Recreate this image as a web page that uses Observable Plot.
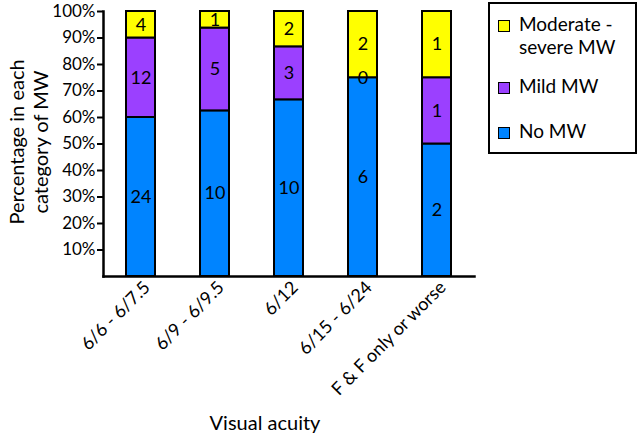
<!DOCTYPE html>
<html><head><meta charset="utf-8">
<script src="https://cdn.jsdelivr.net/npm/d3@7"></script>
<script src="https://cdn.jsdelivr.net/npm/@observablehq/plot@0.6"></script>
<style>
body{margin:0;background:#fff;}
#wrap{position:relative;width:640px;height:439px;font-family:Lato,"Noto Sans",sans-serif;}
.lg{position:absolute;left:488px;top:2px;width:145px;height:148px;border:2px solid #000;background:#fff;}
.sw{position:absolute;left:8px;width:10px;height:10px;border:1.5px solid #000;}
.lt{position:absolute;left:29px;font-size:19px;line-height:23px;color:#000;}
.ylab{position:absolute;left:28px;top:142px;transform:translate(-50%,-50%) rotate(-90deg);font-size:20px;line-height:24px;text-align:center;white-space:nowrap;}
.xlab{position:absolute;left:265px;top:410px;transform:translateX(-50%);font-size:20px;line-height:24px;white-space:nowrap;}
</style></head>
<body><div id="wrap"></div>
<script>
const categories = ["6/6 - 6/7.5", "6/9 - 6/9.5", "6/12", "6/15 - 6/24", "F & F only or worse"];
const series = ["No MW", "Mild MW", "Moderate - severe MW"];
const noMW = [24, 10, 10, 6, 2];
const mildMW = [12, 5, 3, 0, 1];
const modSevMW = [4, 1, 2, 2, 1];
const colors = ["#0084ff", "#9b40ff", "#ffff00"];
const yTicks = [10, 20, 30, 40, 50, 60, 70, 80, 90, 100];

const counts = [noMW, mildMW, modSevMW];
const rows = [];
categories.forEach((c, i) => {
  const total = noMW[i] + mildMW[i] + modSevMW[i];
  series.forEach((s, k) => {
    rows.push({cat: c, series: s, count: counts[k][i], pct: counts[k][i] / total * 100});
  });
});

const chart = Plot.plot({
  width: 640, height: 439,
  marginTop: 11, marginBottom: 163, marginLeft: 103, marginRight: 166,
  style: {fontFamily: "Lato, 'Noto Sans', sans-serif", fontSize: "18px", color: "#000", overflow: "visible"},
  x: {domain: categories, paddingInner: 0.613, paddingOuter: 0.28, label: null},
  y: {domain: [0, 100], label: null},
  color: {domain: series, range: colors},
  marks: [
    Plot.barY(rows, {x: "cat", y: "pct", fill: "series", stroke: "#000", strokeWidth: 2, order: null}),
    Plot.text(rows, Plot.stackY({x: "cat", y: "pct", z: "series", text: "count", fontSize: 18, fill: "#000", order: null})),
    Plot.axisY({ticks: yTicks, tickFormat: d => d + "%", tickSize: 6, tickPadding: 2, strokeWidth: 2, fontSize: 17, label: null}),
    Plot.axisX({tickSize: 0, tickRotate: -45, tickPadding: 8, fontSize: 18, label: null, dx: 6}),
    Plot.frame({anchor: "left", stroke: "#000", strokeWidth: 2.5}),
    Plot.frame({anchor: "bottom", stroke: "#000", strokeWidth: 2.5})
  ]
});
const wrap = document.getElementById("wrap");
wrap.appendChild(chart);

const ylab = document.createElement("div");
ylab.className = "ylab";
ylab.innerHTML = "Percentage in each<br>category of MW";
wrap.appendChild(ylab);

const xlab = document.createElement("div");
xlab.className = "xlab";
xlab.textContent = "Visual acuity";
wrap.appendChild(xlab);

const lg = document.createElement("div");
lg.className = "lg";
const legendItems = [
  {lines: ["Moderate -", "severe MW"], color: colors[2], sw: 16, tx: 8},
  {lines: ["Mild MW"], color: colors[1], sw: 78, tx: 70},
  {lines: ["No MW"], color: colors[0], sw: 123, tx: 115}
];
legendItems.forEach(it => {
  const s = document.createElement("div");
  s.className = "sw"; s.style.top = it.sw + "px"; s.style.background = it.color;
  lg.appendChild(s);
  const t = document.createElement("div");
  t.className = "lt"; t.style.top = it.tx + "px";
  t.innerHTML = it.lines.join("<br>");
  lg.appendChild(t);
});
wrap.appendChild(lg);
</script></body></html>
